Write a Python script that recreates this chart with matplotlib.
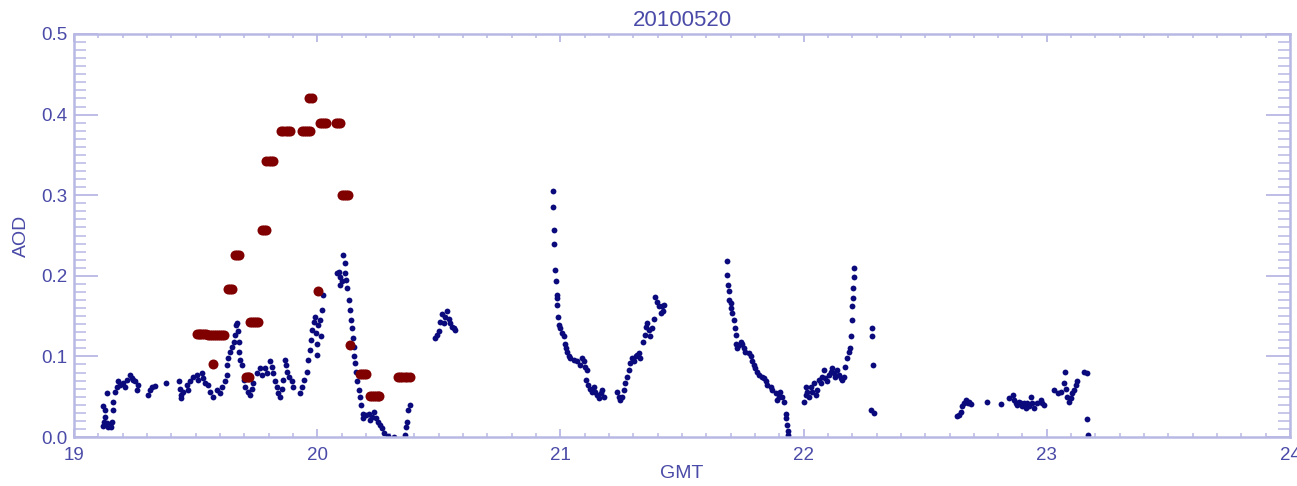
import matplotlib
matplotlib.use("Agg")
from matplotlib import pyplot as plt
from matplotlib.ticker import MultipleLocator

# blue series - AOD samples (GMT hours, AOD)
blue_t = [
    # 19.1 - 19.7
    19.118, 19.121, 19.128, 19.128, 19.125, 19.134, 19.14, 19.148, 19.152, 19.155, 19.159, 19.162,
    19.134, 19.169, 19.176, 19.189, 19.182, 19.203, 19.21, 19.217, 19.23, 19.237, 19.244, 19.251,
    19.265, 19.258, 19.306, 19.313, 19.32, 19.333, 19.379, 19.433, 19.436, 19.439, 19.44, 19.45,
    19.464, 19.47, 19.477, 19.49, 19.505, 19.511, 19.525, 19.532, 19.539, 19.553, 19.56, 19.573,
    19.587, 19.60, 19.608, 19.621, 19.628, 19.628, 19.635, 19.642, 19.649, 19.656, 19.66, 19.667,
    19.67, 19.676, 19.679, 19.68, 19.683, 19.69,
    # 19.7 - 20.03
    19.697, 19.704, 19.717, 19.724, 19.731, 19.738, 19.752, 19.765, 19.772, 19.786, 19.793, 19.807,
    19.813, 19.82, 19.827, 19.834, 19.84, 19.848, 19.855, 19.861, 19.868, 19.872, 19.875, 19.882,
    19.896, 19.902, 19.93, 19.937, 19.944, 19.958, 19.964, 19.971, 19.975, 19.978, 19.985, 19.992,
    19.996, 19.999, 20.001, 20.005, 20.012, 20.015, 20.019, 20.023,
    # 20.08 - 20.39
    20.081, 20.088, 20.095, 20.095, 20.1, 20.108, 20.115, 20.115, 20.119, 20.122, 20.132, 20.136,
    20.14, 20.143, 20.149, 20.152, 20.153, 20.156, 20.16, 20.165, 20.17, 20.174, 20.18, 20.188,
    20.19, 20.202, 20.211, 20.218, 20.225, 20.235, 20.243, 20.252, 20.259, 20.266, 20.273, 20.293,
    20.314, 20.362, 20.366, 20.369, 20.375, 20.383,
    # 20.49 - 20.57
    20.486, 20.492, 20.5, 20.506, 20.513, 20.52, 20.527, 20.533, 20.54, 20.547, 20.554, 20.561, 20.568,
    # 20.97 - 21.43
    20.968, 20.97, 20.972, 20.975, 20.978, 20.982, 20.985, 20.986, 20.985, 20.99, 20.996, 21.0,
    21.007, 21.014, 21.018, 21.023, 21.027, 21.034, 21.041, 21.055, 21.069, 21.082, 21.089, 21.096,
    21.103, 21.11, 21.105, 21.114, 21.123, 21.13, 21.137, 21.144, 21.151, 21.158, 21.165, 21.171,
    21.178, 21.233, 21.24, 21.247, 21.254, 21.26, 21.267, 21.274, 21.281, 21.288, 21.295, 21.302,
    21.309, 21.315, 21.322, 21.329, 21.34, 21.346, 21.35, 21.357, 21.364, 21.37, 21.377, 21.384,
    21.391, 21.397, 21.405, 21.412, 21.418, 21.425, 21.422,
    # 21.68 - 22.21
    21.683, 21.686, 21.69, 21.693, 21.695, 21.7, 21.702, 21.707, 21.713, 21.717, 21.72, 21.723,
    21.727, 21.734, 21.741, 21.748, 21.754, 21.761, 21.775, 21.782, 21.789, 21.796, 21.802, 21.809,
    21.816, 21.83, 21.837, 21.844, 21.85, 21.864, 21.871, 21.885, 21.892, 21.899, 21.905, 21.912,
    21.919, 21.926, 21.929, 21.933, 21.936, 21.937,
    22.001, 22.008, 22.008, 22.015, 22.022, 22.029, 22.036, 22.042, 22.049, 22.056, 22.063, 22.07,
    22.077, 22.083, 22.09, 22.097, 22.104, 22.111, 22.117, 22.124, 22.131, 22.138, 22.145, 22.152,
    22.158, 22.165, 22.172, 22.179, 22.186, 22.19, 22.193, 22.197, 22.2, 22.202, 22.204, 22.206, 22.207,
    # 22.28
    22.28, 22.282, 22.287, 22.276, 22.29,
    # 22.63 - 23.17
    22.632, 22.639, 22.646, 22.653, 22.66, 22.667, 22.674, 22.68, 22.687, 22.753, 22.811, 22.845,
    22.859, 22.866, 22.872, 22.879, 22.886, 22.893, 22.9, 22.906, 22.913, 22.92, 22.927, 22.934,
    22.941, 22.947, 22.961, 22.975, 22.982, 22.989, 23.03, 23.044, 23.058, 23.071, 23.075, 23.078,
    23.085, 23.092, 23.099, 23.105, 23.112, 23.119, 23.126, 23.153, 23.164, 23.167, 23.169,
]
blue_aod = [
    0.014, 0.038, 0.034, 0.025, 0.019, 0.017, 0.012, 0.015, 0.013, 0.019, 0.034, 0.044,
    0.055, 0.056, 0.062, 0.065, 0.069, 0.067, 0.062, 0.071, 0.077, 0.073, 0.071, 0.069,
    0.065, 0.058, 0.052, 0.058, 0.062, 0.063, 0.067, 0.069, 0.06, 0.048, 0.052, 0.056,
    0.065, 0.058, 0.069, 0.075, 0.077, 0.071, 0.079, 0.073, 0.067, 0.065, 0.056, 0.05,
    0.058, 0.054, 0.062, 0.069, 0.077, 0.089, 0.098, 0.106, 0.112, 0.118, 0.127, 0.139,
    0.142, 0.131, 0.118, 0.106, 0.096, 0.089,
    0.071, 0.062, 0.056, 0.052, 0.06, 0.067, 0.079, 0.085, 0.077, 0.085, 0.079, 0.094,
    0.087, 0.079, 0.069, 0.062, 0.054, 0.05, 0.06, 0.071, 0.096, 0.089, 0.081, 0.075,
    0.069, 0.062, 0.054, 0.062, 0.071, 0.081, 0.096, 0.108, 0.12, 0.133, 0.143, 0.149,
    0.129, 0.116, 0.102, 0.139, 0.145, 0.125, 0.158, 0.176,
    0.203, 0.205, 0.199, 0.189, 0.193, 0.226, 0.216, 0.203, 0.195, 0.185, 0.17, 0.158,
    0.145, 0.135, 0.123, 0.112, 0.1, 0.092, 0.081, 0.069, 0.058, 0.05, 0.04, 0.029,
    0.023, 0.027, 0.029, 0.021, 0.025, 0.031, 0.023, 0.019, 0.015, 0.011, 0.005, 0.001,
    0.0, 0.002, 0.013, 0.019, 0.034, 0.04,
    0.123, 0.127, 0.131, 0.143, 0.152, 0.141, 0.149, 0.156, 0.147, 0.141, 0.137, 0.135, 0.133,
    0.305, 0.285, 0.257, 0.239, 0.207, 0.193, 0.176, 0.172, 0.164, 0.149, 0.139, 0.135,
    0.129, 0.125, 0.116, 0.11, 0.106, 0.1, 0.098, 0.096, 0.094, 0.089, 0.098, 0.094,
    0.087, 0.083, 0.071, 0.065, 0.06, 0.056, 0.062, 0.056, 0.052, 0.048, 0.054, 0.058,
    0.05, 0.056, 0.05, 0.046, 0.05, 0.058, 0.067, 0.075, 0.083, 0.092, 0.098, 0.094,
    0.1, 0.102, 0.104, 0.098, 0.118, 0.127, 0.137, 0.141, 0.133, 0.125, 0.135, 0.147,
    0.174, 0.168, 0.162, 0.154, 0.162, 0.164, 0.156,
    0.218, 0.201, 0.189, 0.181, 0.17, 0.166, 0.16, 0.154, 0.145, 0.135, 0.127, 0.116,
    0.11, 0.114, 0.118, 0.116, 0.11, 0.106, 0.104, 0.1, 0.094, 0.089, 0.085, 0.081,
    0.077, 0.075, 0.073, 0.069, 0.065, 0.062, 0.058, 0.054, 0.046, 0.05, 0.056, 0.05,
    0.044, 0.029, 0.023, 0.015, 0.007, 0.002,
    0.044, 0.052, 0.062, 0.056, 0.05, 0.062, 0.056, 0.067, 0.052, 0.058, 0.071, 0.067,
    0.075, 0.083, 0.073, 0.069, 0.077, 0.081, 0.085, 0.079, 0.075, 0.083, 0.077, 0.073,
    0.071, 0.075, 0.087, 0.098, 0.106, 0.11, 0.125, 0.145, 0.162, 0.172, 0.185, 0.199, 0.21,
    0.135, 0.125, 0.089, 0.034, 0.03,
    0.026, 0.027, 0.031, 0.038, 0.042, 0.046, 0.042, 0.044, 0.041, 0.043, 0.041, 0.048,
    0.052, 0.046, 0.042, 0.04, 0.044, 0.042, 0.038, 0.042, 0.036, 0.042, 0.038, 0.05,
    0.042, 0.036, 0.042, 0.046, 0.042, 0.04, 0.058, 0.054, 0.056, 0.067, 0.081, 0.06,
    0.05, 0.044, 0.048, 0.054, 0.058, 0.065, 0.069, 0.081, 0.079, 0.022, 0.002,
]

# red series - the bigger dark red dots
red_t = [
    19.504, 19.512, 19.52, 19.528, 19.536, 19.544,
    19.552, 19.56, 19.568, 19.576, 19.584, 19.592, 19.6, 19.608, 19.615,
    19.57,
    19.634, 19.642, 19.65,
    19.66, 19.67, 19.679,
    19.708, 19.714, 19.72,
    19.722, 19.73, 19.74, 19.75, 19.757,
    19.774, 19.782, 19.79,
    19.79, 19.80, 19.81, 19.819,
    19.85, 19.86, 19.87, 19.88, 19.887,
    19.938, 19.946, 19.954, 19.962, 19.971,
    19.968, 19.98,
    20.01, 20.018, 20.026, 20.035,
    20.078, 20.085, 20.093,
    20.004,
    20.103, 20.11, 20.12, 20.128,
    20.134,
    20.175, 20.183, 20.191, 20.2,
    20.216, 20.224, 20.232, 20.24, 20.248, 20.255,
    20.333, 20.34, 20.35, 20.36, 20.37, 20.383,
]
red_aod = [
    0.128, 0.128, 0.128, 0.128, 0.128, 0.128,
    0.126, 0.126, 0.126, 0.126, 0.126, 0.126, 0.126, 0.126, 0.126,
    0.091,
    0.184, 0.184, 0.184,
    0.226, 0.226, 0.226,
    0.075, 0.075, 0.075,
    0.143, 0.143, 0.143, 0.143, 0.143,
    0.257, 0.257, 0.257,
    0.342, 0.342, 0.342, 0.342,
    0.38, 0.38, 0.38, 0.38, 0.38,
    0.38, 0.38, 0.38, 0.38, 0.38,
    0.42, 0.42,
    0.39, 0.39, 0.39, 0.39,
    0.39, 0.39, 0.39,
    0.181,
    0.30, 0.30, 0.30, 0.30,
    0.114,
    0.078, 0.078, 0.078, 0.078,
    0.051, 0.051, 0.051, 0.051, 0.051, 0.051,
    0.075, 0.075, 0.075, 0.075, 0.075, 0.075,
]

axis_col = "#b8b8e4"
text_col = "#4a4aa8"

plt.rcParams["font.family"] = ["Liberation Sans", "DejaVu Sans"]

fig = plt.figure(figsize=(12.97, 4.86), dpi=100)
ax = fig.add_axes([74 / 1297, 1 - 437 / 486, (1290 - 74) / 1297, (437 - 34) / 486])

ax.plot(blue_t, blue_aod, "o", color="#0a0a7c", markersize=4.2, markeredgewidth=0, zorder=2)
ax.plot(red_t, red_aod, "o", color="#800000", markersize=7.2, markeredgewidth=0, zorder=3)

ax.set_xlim(19, 24)
ax.set_ylim(0, 0.5)
ax.xaxis.set_major_locator(MultipleLocator(1))
ax.xaxis.set_minor_locator(MultipleLocator(0.1))
ax.yaxis.set_major_locator(MultipleLocator(0.1))
ax.yaxis.set_minor_locator(MultipleLocator(0.01))
ax.xaxis.set_major_formatter(lambda v, p: "%d" % v)
ax.yaxis.set_major_formatter(lambda v, p: "%.1f" % v)

for s in ax.spines.values():
    s.set_color(axis_col)
    s.set_linewidth(1.8)

ax.tick_params(axis="x", which="major", direction="in", length=6, width=1.3, color=axis_col,
               top=True, labelcolor=text_col, labelsize=13.5, pad=7)
ax.tick_params(axis="x", which="minor", direction="in", length=3, width=1.1, color=axis_col, top=True)
ax.tick_params(axis="y", which="major", direction="in", length=17, width=1.3, color=axis_col,
               right=True, labelcolor=text_col, labelsize=13.5, pad=5)
ax.tick_params(axis="y", which="minor", direction="in", length=8.5, width=1.1, color=axis_col, right=True)

ax.set_title("20100520", color=text_col, fontsize=16, pad=6)
ax.set_xlabel("GMT", color=text_col, fontsize=14, labelpad=1)
ax.set_ylabel("AOD", color=text_col, fontsize=14, labelpad=8)

fig.savefig("out.png", dpi=100)
